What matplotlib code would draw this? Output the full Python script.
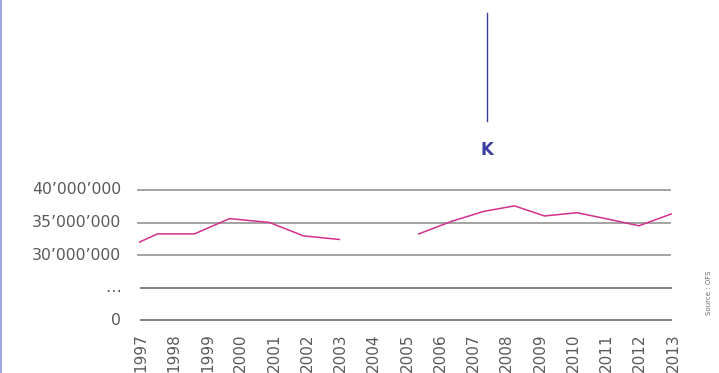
import matplotlib
matplotlib.use('Agg')
from matplotlib import pyplot as plt
from matplotlib.lines import Line2D

# valeurs (en millions), positions sur l'axe des années
x_a = [1997.0, 1997.54, 1998.65, 1999.71, 2000.91, 2001.93, 2003.01]
v_a = [32.0, 33.25, 33.25, 35.6, 35.0, 32.95, 32.4]
x_b = [2005.40, 2006.37, 2007.35, 2008.28, 2009.18, 2010.16, 2011.11, 2012.02, 2012.99]
v_b = [33.25, 35.15, 36.7, 37.55, 36.0, 36.5, 35.5, 34.5, 36.3]

annees = list(range(1997, 2014))
niveaux = [40, 35, 30, 25, 20]
etiquettes = ['40\u2019000\u2019000', '35\u2019000\u2019000', '30\u2019000\u2019000', '\u2026', '0']

W, H = 719, 373
px_an = 33.25      # pixels par année
x0 = 139.5         # pixel de 1997
px_m = 6.52        # pixels par million
y0 = 320.3         # pixel du niveau "0"

def px_x(p):
    return 1997 + (p - x0) / px_an

fig = plt.figure(figsize=(W / 100, H / 100), dpi=100)
ax = fig.add_axes([0, 0, 1, 1])
ax.set_xlim(px_x(0), px_x(W))
ax.set_ylim(20 - (H - y0) / px_m, 20 + y0 / px_m)
ax.axis('off')

gris = '#5a5a5a'
for i, (n, lab) in enumerate(zip(niveaux, etiquettes)):
    if i < 3:
        ax.hlines(n, px_x(137), px_x(671), color='#a3a3a3', lw=1.4, zorder=1)
    else:
        ax.hlines(n, px_x(140), px_x(672), color='#606060', lw=1.1, zorder=1)
    ax.text(px_x(121), n, lab, ha='right', va='center', fontsize=11.3, color=gris)

ax.plot(x_a, v_a, color='#d2308c', lw=1.1, zorder=3)
ax.plot(x_b, v_b, color='#d2308c', lw=1.1, zorder=3)

for a in annees:
    ax.text(a + 1.5 / px_an, 20 - 13 / px_m, str(a), rotation=90, ha='center', va='top',
            fontsize=11, color=gris)

# repère K
fig.add_artist(Line2D([487 / W, 487 / W], [1 - 13 / H, 1 - 121 / H],
                      transform=fig.transFigure, color='#3d3f9c', lw=1.0))
fig.text(487 / W, 1 - 150 / H, 'K', ha='center', va='center', fontsize=12,
         fontweight='bold', color='#3d3fa3')

# bord gauche
fig.add_artist(Line2D([1 / W, 1 / W], [0, 1], transform=fig.transFigure,
                      color='#a3a7dd', lw=1.5))

fig.text(709 / W, 1 - 293 / H, 'Source : OFS', rotation=90, ha='center', va='center',
         fontsize=5, color='#6a6a6a')

fig.savefig('out.png', dpi=100)
